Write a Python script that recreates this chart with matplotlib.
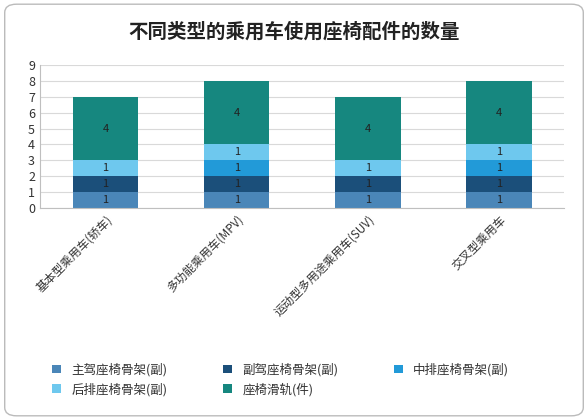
import matplotlib
matplotlib.use("Agg")
import matplotlib.pyplot as plt
from matplotlib.patches import FancyBboxPatch

plt.rcParams['font.family'] = ['Noto Sans CJK SC', 'DejaVu Sans']

categories = ['基本型乘用车(轿车)', '多功能乘用车(MPV)', '运动型多用途乘用车(SUV)', '交叉型乘用车']
series_names = ['主驾座椅骨架(副)', '副驾座椅骨架(副)', '中排座椅骨架(副)', '后排座椅骨架(副)', '座椅滑轨(件)']
main_driver = [1, 1, 1, 1]
co_driver = [1, 1, 1, 1]
middle_row = [0, 1, 0, 1]
rear_row = [1, 1, 1, 1]
slide_rail = [4, 4, 4, 4]
values = [main_driver, co_driver, middle_row, rear_row, slide_rail]
colors = ['#4a86b8', '#1b4f7a', '#229ad8', '#6ec8ee', '#16877f']

fig = plt.figure(figsize=(5.88, 4.2), dpi=100)
fig.patches.append(FancyBboxPatch((0.008, 0.01), 0.984, 0.98, boxstyle='round,pad=0,rounding_size=0.02',
                                  transform=fig.transFigure, fill=False, edgecolor='#bbbbbb', linewidth=1))
ax = fig.add_axes([0.068, 0.505, 0.892, 0.34])
x = range(len(categories))
bottom = [0] * len(categories)
handles = []
for name, vals, c in zip(series_names, values, colors):
    bars = ax.bar(x, vals, 0.5, bottom=bottom, color=c, label=name)
    handles.append(bars)
    for xi, v, b in zip(x, vals, bottom):
        if v:
            ax.text(xi, b + v / 2, str(v), ha='center', va='center', fontsize=8, color='#222222')
    bottom = [b + v for b, v in zip(bottom, vals)]

ax.set_ylim(0, 9)
ax.set_xlim(-0.5, 3.5)
ax.set_yticks(range(10))
ax.tick_params(axis='y', length=0, labelsize=9, colors='#333333')
ax.tick_params(axis='x', length=0, labelsize=8.5, colors='#333333')
ax.set_xticks(list(x))
ax.set_xticklabels(categories, rotation=45, ha='right', rotation_mode='anchor')
ax.grid(axis='y', color='#d9d9d9', linewidth=0.8)
ax.set_axisbelow(True)
for s in ['top', 'right']:
    ax.spines[s].set_visible(False)
ax.spines['left'].set_color('#bfbfbf')
ax.spines['bottom'].set_color('#bfbfbf')

fig.text(0.5, 0.925, '不同类型的乘用车使用座椅配件的数量', ha='center', va='center', fontsize=14, fontweight='bold', color='#222222')
order = [0, 3, 1, 4, 2]
fig.legend([handles[i] for i in order], [series_names[i] for i in order],
           loc='lower left', bbox_to_anchor=(0.07, 0.03), ncol=3, frameon=False, fontsize=9,
           handlelength=0.7, handleheight=0.7, columnspacing=4.5, labelcolor='#333333')
fig.savefig('out.png', dpi=100)
